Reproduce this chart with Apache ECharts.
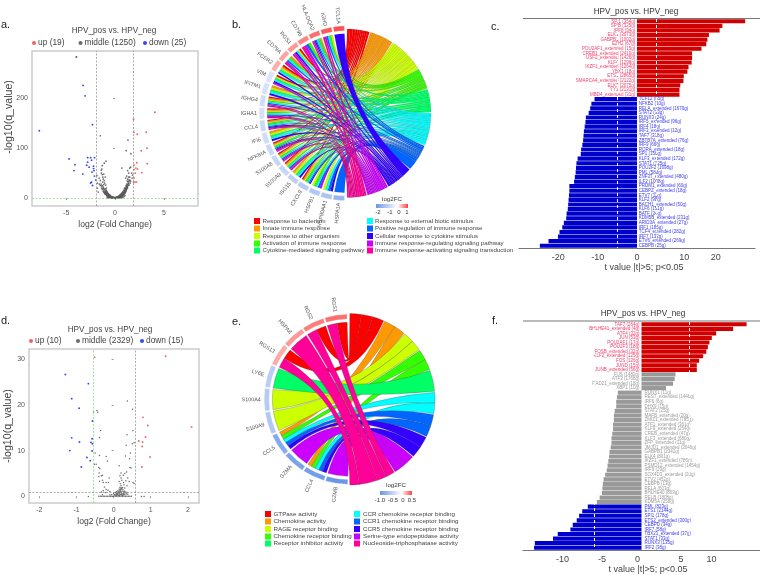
<!DOCTYPE html>
<html><head><meta charset="utf-8">
<style>html,body{margin:0;padding:0;background:#fff}#c{width:760px;height:575px}</style>
<script src="https://cdn.jsdelivr.net/npm/echarts@6/dist/echarts.min.js"></script>
</head><body><div id="c"></div>
<script>
// ---------- panel a ----------
const aUp=[[4.08,172],[1.9,158],[1.94,132],[2.28,128],[3.2,132],[3.27,100],[2.69,95],[3.3,69],[2.24,71],[1.94,66],[2.14,60],[2.3,58],[1.94,57],[2.75,51],[2.07,50],[1.94,40],[1.9,32],[2.04,32],[2.2,32]];
const aDown=[[-3.95,283],[-3.27,226],[-3.06,205],[-2.31,147],[-7.75,135],[-4.7,78.5],[-4.1,67],[-4.2,55],[-3.3,48],[-2.8,81],[-2.5,81],[-2.1,81],[-2.4,76],[-2.8,72],[-2.9,66],[-2.65,62],[-2.2,64],[-2.2,59],[-2.15,55],[-2.35,52],[-2.1,44],[-1.97,36],[-2.5,30],[-2.4,32],[-2.3,25]];
const aMid=[[-1.5,125],[1.33,116],[1.15,95],[1.63,89],[-0.92,74],[-1.1,70],[-1.3,65],[-1.35,58],[-1.4,56],[0.7,60],[1.5,60],[1.6,62],[1.3,55],[1.4,50],[1.7,50],[1.8,46],[1.75,40],[1.2,44],[1.1,40],[1.3,38],[1.25,34],[1.35,30],[1.2,28],[1.15,25],[1.1,22],[1,20],[0.95,18],[0.9,15],[0.8,13],[0.75,11],[0.7,10],[0.6,8],[0.55,7],[0.5,6],[0.4,4],[0.3,3],[0.2,2],[0.1,1],[0,0.5],
[-1.85,45],[-1.8,30],[-1.8,20],[-1.4,50],[-1.3,47],[-1.25,42],[-1.2,38],[-1.1,35],[-1.05,30],[-1.5,35],[-0.95,26],[-0.9,20],[-1.6,28],[-1.5,25],[-1.3,25],[-1.2,22],[-1.0,18],[-0.9,16],[-0.85,14],[-0.8,12],[-0.75,10],[-0.7,9],[-0.6,7],[-0.5,6],
[-1.15,16],[-1.05,14],[-0.98,12],[-0.95,10],[-0.88,9],[-0.82,8],[-0.77,7],[-0.7,6],[-0.65,5],[-0.6,4.5],[-0.55,4],[-0.5,3.5],[-0.45,3],[-0.4,2.5],[-0.35,2],[-0.3,1.5],[-0.25,1],[-0.2,0.8],[-0.15,0.6],[-0.85,5],[-0.78,4],[-0.72,3.5],[-0.66,3],[-0.6,2.5],[-0.54,2],[-0.48,1.5],[-0.42,1.2],[-0.36,1],[-0.8,1],[-0.7,0.8],[-0.6,0.6],[-0.5,0.5],[-0.4,0.5],[-0.3,0.4],[-0.2,0.4],[-0.1,0.4],[0,0.3],[0.1,0.4],[0.2,0.4],[0.3,0.5],[0.4,0.5],[0.5,0.6],[0.6,0.8],[0.7,1],[0.8,1.5],
[0.25,2],[0.35,2.8],[0.45,3.8],[0.5,4.5],[0.58,5],[0.65,6],[0.72,7],[0.78,8],[0.85,9.5],[0.9,11],[0.98,13],[1.02,15],[1.08,17],[1.15,19],[1.2,21],[1.22,24],[1.28,27],[1.32,33],[1.42,36],[1.5,42],[1.55,30],[1.6,34],[1.45,26],[0.85,6],[0.78,5],[0.7,4],[0.65,3.5],[0.6,3],[0.55,2.5],[0.5,2],[0.45,1.5],[0.4,1.2],[0.92,7],[1,9],[1.05,11],[1.12,13],[-1.05,9],[-1.12,11],[-1.2,13],[-1.3,17],[-1.38,20],[0.15,0.8],[0.05,0.7],[-0.05,0.7],[-0.1,1],[-1.72,12],[-1.62,40],[-1.0,42],[-1.15,48],
[-1.0,8],[-0.92,7],[-0.86,6.5],[-0.8,5.5],[-0.74,5],[-0.68,4],[-0.62,3.5],[-0.56,3],[-0.5,2.5],[-0.44,2],[-0.38,1.6],[-0.32,1.2],[-0.9,12],[-0.84,11],[-0.78,9],[-0.72,8],[-0.66,7],[-0.6,5.5],[-0.54,5],[-0.48,4],[-0.42,3.5],[-0.36,3],[-0.3,2.5],[-0.24,2],[-0.18,1.5],[-0.12,1.2],[-1.08,11],[-1.0,11],[-0.95,14],[-1.08,18],[-1.18,20],[-1.25,19],[-1.35,24],[-1.42,28],[-1.15,27],[-1.25,32],
[0.12,1.6],[0.18,1.2],[0.24,1.4],[0.3,2],[0.36,2.2],[0.42,3],[0.48,3],[0.54,3.5],[0.6,4.5],[0.66,5],[0.72,5.5],[0.78,6.5],[0.84,8],[0.9,9],[0.96,10.5],[1.02,12],[1.08,14],[1.14,16],[1.2,18],[1.26,21],[1.3,24],[1.36,26],[1.4,29],[1.12,19],[1.18,24],[1.06,18],[1.0,15],[0.94,12],[0.88,11],[0.82,10],[0.76,9],[0.7,7.5],[0.64,7],[0.58,6],[0.52,5],[0.46,4.5],[1.45,33],[1.52,36],[1.4,42],[1.28,20],[0.92,3],[1.02,5],[0.62,1.2],[0.72,2]];
// ---------- panel d ----------
const dUp=[[1.4,30.7],[2.1,15.2],[0.79,17.3],[0.92,15.5],[0.86,13],[0.68,12.1],[0.78,11.9],[0.77,10.9],[0.98,8.6],[0.76,6.4]];
const dDown=[[-1.3,26.7],[-0.68,24.7],[-1.13,21.4],[-0.93,19.3],[-0.57,16.5],[-1.13,12.8],[-0.92,11.9],[-0.58,12.6],[-0.61,11.8],[-0.57,11.5],[-1.18,10],[-0.58,9.9],[-0.72,8.5],[-0.63,7.8],[-0.87,6.4]];
const dMid=[[-0.51,30.5],[0.37,20.9],[0.51,19.1],[-0.54,18.5],[-0.45,18.8],[-0.43,18.4],[-0.35,14.4],[-0.38,12.9],[0.36,13.5],[0.52,14.4],[0.55,11.7],[0.34,11.2],[0.5,11.5],[-0.5,9.5],[-0.38,8.9],[-0.2,8.7],[-0.17,7.7],[0.32,8.8],[0.45,9.5],[0.43,8.2],[0.15,6.7],[0.47,6.2],[0.44,6.3],[-0.52,7],[-0.47,7],[-0.4,6.3],[-0.37,6],[-0.39,5.1],[-0.4,4.3],[-0.33,4.5],[-0.3,3.5],[-0.38,3.3],[-0.28,3],[-0.2,3],[-0.14,3],[-0.3,4.6],[-0.12,4],[0.17,4.5],[0.2,4],[0.26,4.6],[0.3,5],[0.35,5.3],[0.22,3.5],[0.27,3],[0.33,3.4],[0.38,4],[0.42,3.2],[0.52,3],[0.55,2.8],[0.2,5.1],[0.28,2.5],[0.18,2.7],[0.15,3.2],[0.36,2.3],[0.3,1.8],[-0.25,2],[-0.2,1.5],[-0.15,1.3],[-0.1,1],[-0.28,1.2],[-0.33,0.9],[-0.22,0.8],
[0,0.6],[0.05,0.8],[0.08,1],[0.1,0.7],[0.12,1.2],[0.15,1.5],[0.17,1.9],[0.2,2.3],[0.22,1.6],[0.25,1.4],[0.18,1.1],[0.2,0.9],[0.14,0.5],[0.22,0.6],[0.27,0.9],[0.3,0.7],[0.34,0.5],[0.1,0.3],[0.16,0.2],[0.24,0.2],
[-0.4,0],[-0.36,0],[-0.32,0],[-0.28,0],[-0.24,0],[-0.2,0],[-0.16,0],[-0.12,0],[-0.08,0],[-0.04,0],[0,0],[0.04,0],[0.08,0],[0.12,0],[0.16,0],[0.2,0],[0.24,0],[0.28,0],[0.32,0],[0.36,0],[0.4,0],[0.44,0],[0.48,0],[-0.68,-0.1],[0.75,-0.1],[0.82,-0.1],
[0.02,0.3],[0.06,0.4],[0.1,0.5],[0.13,0.8],[0.16,0.7],[0.19,1.4],[0.21,1.8],[0.23,1.1],[0.26,0.6],[0.29,1.1],[0.32,0.9],[0.18,0.4],[0.2,0.3],[0.22,0.3],[0.26,0.3],[0.3,0.3],[0.14,0.2],[0.08,0.2],[0.04,0.2],[0.17,1.3],[0.2,1.7],[0.24,1.9],[0.16,0.9],[0.12,0.9],[0.09,0.6],[-0.05,0.3],[-0.1,0.3],[-0.3,0.3],[0.38,0.4],[0.36,0.8]];
// ---------- panel c ----------
const cUpNames=['SPI1 (354g)','SPIB (325g)','IRF8 (34g)','ELK1 (3073g)','GABPB1 (1002g)','EZH2 (67g)','POU2AF1_extended (15g)','CREB1_extended (2410g)','USF2_extended (1426g)','KLF4 (1298g)','IKZF1_extended (1264g)','YBX1 (18g)','ETS1 (2865g)','SMARCA4_extended (2122g)','ELK3 (2075g)','YY1 (2131g)','MBD4_extended (31g)'];
const cUpValues=[27.5,21.7,21,18.3,17.9,17.6,16.4,14,14,13.9,13.1,12.8,11.9,11.8,11,10.8,10.8];
const cDownNames=['TCF12 (65g)','NFKB2 (10g)','RELA_extended (1670g)','STAT2 (33g)','RUNX3 (24g)','IRF5_extended (96g)','IRF4 (18g)','IRF3_extended (12g)','TAF7 (338g)','ZBTB7A_extended (76g)','IRF9 (66g)','RORA_extended (18g)','SP1 (156g)','KLF3_extended (172g)','STAT1 (125g)','POU2F2 (1698g)','PML (588g)','ZNF37_extended (480g)','ILF2 (1008g)','PRDM1_extended (60g)','CEBPZ_extended (18g)','ETV7 (11g)','KLF2 (98g)','BACH1_extended (50g)','KLF6 (151g)','BATF (34g)','KDM5B_extended (231g)','ARID3A_extended (27g)','IRF1 (185g)','TCF4_extended (282g)','IRF7 (132g)','ETV6_extended (269g)','CEBPB (25g)'];
const cDownValues=[-10.8,-11.6,-11.9,-12.3,-13,-13.1,-13.3,-13.5,-13.6,-13.7,-13.9,-14.2,-14.3,-15.1,-15.4,-15.5,-15.6,-15.8,-16,-17.2,-17.2,-17.3,-17.4,-17.5,-17.6,-17.9,-18,-18.6,-19,-19.7,-20.1,-22.5,-24.7];
// ---------- panel f ----------
const fUpNames=['TAF7 (264g)','BHLHE41_extended (4g)','ATF4 (32g)','JUN (53g)','POU2AF1 (17g)','POU2F3 (18g)','FOSB_extended (32g)','KLF2_extended (125g)','FOS (126g)','JUND (15g)','JUNB_extended (56g)'];
const fUpValues=[13.3,11.6,9.45,8.9,8.6,8.4,8.2,7.8,7.3,7,7];
const fMidPosNames=['FUS (1482g)','ATF3 (1768g)','RAD21_extended (18g)','XBP1 (10g)'];
const fMidPosValues=[4.3,4.2,4,3.1];
const fMidNegNames=['RUNX1 (11g)','REST_extended (1446g)','IRF6 (6g)','DHX9 (15g)','STAT2 (25g)','MAFB_extended (20g)','ZMIZ1_extended (785g)','ATF1_extended (361g)','KLF9_extended (254g)','CREB_extended (47g)','KLF3_extended (680g)','ZFP_extended (11g)','JMJD1_extended (2040g)','GABPB1 (2341g)','ELK4 (801g)','IKZF1_extended (785g)','PSMD12_extended (1454g)','IRF9 (29g)','SOX4D3_extended (20g)','ETV2 (452g)','CEBPB (13g)','RELA (603g)','BHLHE40 (803g)','RELB (1808g)','KDM5A (258g)'];
const fMidNegValues=[-3,-3.1,-3.2,-3.2,-3.4,-3.5,-3.5,-3.6,-3.6,-3.7,-3.8,-3.8,-3.9,-4.05,-4.1,-4.2,-4.3,-4.4,-4.6,-4.8,-4.9,-4.95,-5,-5.3,-5.65];
const fDownNames=['PML (823g)','ETS1 (2144g)','SPI1 (178g)','ETS2_extended (300g)','CEBPD (34g)','IRF7 (58g)','TBX21_extended (37g)','STAT1 (33g)','RUNX3 (135g)','IRF2 (38g)'];
const fDownValues=[-6.8,-7.5,-7.9,-8.2,-8.7,-9,-10.6,-11.2,-13.5,-13.6];
// ---------- chord b ----------
const bTerms=['Response to bacterium','Innate immune response','Response to other organism','Activation of immune response','Cytokine-mediated signaling pathway','Response to external biotic stimulus','Positive regulation of immune response','Cellular response to cytokine stimulus','Immune response-regulating signaling pathway','Immune response-activating signaling transduction'];
const bTermSpans=[16,17,25,15,16.5,23,19,19,15.5,14];
const bGenes=['TCL1A','IGHD','HLA-DQA2','CD79B','RGS1','CD79A','FCER2','VIM','IFITM1','IGHG4','IGHA1','CCL4','IFI6','NFKBIA','S100A8','S100A9','ISG15','CXCL9','HSPB1','HSP90AA1','HSPA1A'];
const bGeneFc=[0.85,0.8,0.7,0.6,0.5,0.45,0.4,-0.4,-0.45,-0.5,-0.45,-0.55,-0.5,-0.55,-0.6,-0.6,-0.7,-0.75,-0.8,-0.85,-1.1];
const bGeneTerms=[[7],[2,3,5,6,8,9],[1,3,4,5,6,7,8,9],[3,6,8,9],[0,2,5,7,8,9],[1,3,5,6,8,9],[0,1,2,4,5,7],[0,2,4,5,7,8],[1,2,4,5,7],[0,1,2,3,5,6,8,9],[0,1,2,3,5,6,8,9],[0,1,2,3,4,5,6,7,8,9],[1,2,4,5,7],[0,1,2,3,4,6,7,8,9],[0,1,2,3,5,6,8,9],[0,1,2,3,5,6,8,9],[1,2,4,5,7],[0,1,2,3,4,5,6,7],[2,3,5,6,8],[2,5,6,7],[6]];
// ---------- chord e ----------
const eTerms=['GTPase activity','Chemokine activity','RAGE receptor binding','Chemokine receptor binding','Receptor inhibitor activity','CCR chemokine receptor binding','CCR1 chemokine receptor binding','CCR5 chemokine receptor binding','Serine-type endopeptidase activity','Nucleoside-triphosphatase activity'];
const eTermSpans=[24,16,15,15,15,15,16,16,16,32];
const eGenes=['RGS1','RGS2','HSPA8','RGS13','LY6E','S100A4','S100A9','CCL5','GZMA','CCL4','GZMB'];
const eGeneFc=[0.42,0.38,0.3,0.25,-0.4,-0.42,-0.45,-0.7,-0.75,-0.8,-0.85];
const eGeneTerms=[[0,9],[0,9],[9],[0,9],[4],[2],[2],[1,3,5,6,7],[8],[1,3,5,6,7],[8]];
const ramp=['#FF0000','#FF9900','#CCFF00','#33FF00','#00FF66','#00FFFF','#0066FF','#3300FF','#CC00FF','#FF0099'];

const FONT='"Liberation Sans",Arial,sans-serif';
const graphics=[];
function txt(x,y,s,size,fill,align,vAlign,rot){graphics.push({type:'text',x,y,rotation:rot||0,silent:true,style:{text:s,font:size+'px '+FONT,fill:fill||'#333',align:align||'left',verticalAlign:vAlign||'middle'}});}
function rect(x,y,w,h,fill){graphics.push({type:'rect',silent:true,shape:{x,y,width:w,height:h},style:{fill}});}
function hline(x1,x2,y,c,w){graphics.push({type:'line',silent:true,shape:{x1,y1:y,x2,y2:y},style:{stroke:c,lineWidth:w}});}

[['a.',1,25],['b.',232,25],['c.',491,27],['d.',1,321],['e.',232,322],['f.',492,321]].forEach(p=>txt(p[1],p[2],p[0],11,'#222'));
txt(114,31,'HPV_pos vs. HPV_neg',8.2,'#444','center');
txt(110,330,'HPV_pos vs. HPV_neg',8.2,'#444','center');
txt(636,12,'HPV_pos vs. HPV_neg',8.2,'#333','center');
txt(643,314,'HPV_pos vs. HPV_neg',8.2,'#333','center');
txt(9,117,'-log10(q_value)',10.6,'#444','center','middle',Math.PI/2);
txt(8,426,'-log10(q_value)',10.6,'#444','center','middle',Math.PI/2);
txt(644,268,'t value |t|>5; p<0.05',9,'#444','center');
txt(648,570,'t value |t|>5; p<0.05',9,'#444','center');
hline(523,760,18.5,'#777',1.2);
hline(523,760,321,'#777',1.2);

function hexMix(a,b,t){const p=s=>[1,3,5].map(i=>parseInt(s.substr(i,2),16));const A=p(a),B=p(b);return 'rgb('+A.map((v,i)=>Math.round(v+(B[i]-v)*t)).join(',')+')';}
function fcColor(v,lo,hi,cLo,cHi){return v<0?hexMix('#ffffff',cLo,Math.min(1,v/lo)):hexMix('#ffffff',cHi,Math.min(1,v/hi));}

function chord(o){
  const P=(deg,r)=>{const t=deg*Math.PI/180;return [o.cx+r*Math.sin(t),o.cy-r*Math.cos(t)];};
  const n=o.genes.length, gStep=(o.gEnd-o.gStart)/n;
  const perTerm=o.spans.map(()=>[]);
  o.geneTerms.forEach((ts,g)=>ts.forEach(t=>perTerm[t].push({g,w:1/ts.length})));
  const tAng={};let acc=o.tStart;
  o.spans.forEach((s,t)=>{
    const tot=perTerm[t].reduce((a,b)=>a+b.w,0);let a=acc+o.gap/2;const us=s-o.gap;
    perTerm[t].forEach(it=>{const d=us*it.w/tot;tAng[it.g+'_'+t]=[a,a+d];a+=d;});
    acc+=s;
  });
  const ribbons=[];
  o.geneTerms.forEach((ts,g)=>{
    const hiA=o.gEnd-g*gStep-o.gGap/2, loA=o.gEnd-(g+1)*gStep+o.gGap/2;
    const sorted=ts.slice().sort((a,b)=>b-a), d=(hiA-loA)/sorted.length;
    sorted.forEach((t,i)=>ribbons.push({g,t,a1:loA+i*d,a2:loA+(i+1)*d,t1:tAng[g+'_'+t][0],t2:tAng[g+'_'+t][1]}));
  });
  o.order(ribbons);
  const f=p=>p[0].toFixed(2)+' '+p[1].toFixed(2);
  const ribbonSeries={type:'custom',coordinateSystem:'none',silent:true,clip:false,z:2,data:ribbons.map((_,i)=>[i]),
    renderItem(params){const q=ribbons[params.dataIndex];const c=o.cx+' '+o.cy;
      const d='M'+f(P(q.a1,o.rg))+'A'+o.rg+' '+o.rg+' 0 0 1 '+f(P(q.a2,o.rg))+'Q'+c+' '+f(P(q.t1,o.rt))+'A'+o.rt+' '+o.rt+' 0 0 1 '+f(P(q.t2,o.rt))+'Q'+c+' '+f(P(q.a1,o.rg))+'Z';
      return {type:'path',shape:{pathData:d},style:{fill:ramp[q.t],stroke:o.stroke,lineWidth:o.lw}};}};
  const geneSeries={type:'custom',coordinateSystem:'none',silent:true,clip:false,z:3,data:o.genes.map((_,i)=>[i]),
    renderItem(params){const g=params.dataIndex;const hi=o.gEnd-g*gStep-o.gGap/2,lo=o.gEnd-(g+1)*gStep+o.gGap/2;const mid=(hi+lo)/2;
      const [lx,ly]=P(mid,o.labelR);
      return {type:'group',children:[
        {type:'sector',shape:{cx:o.cx,cy:o.cy,r0:o.r0,r:o.r1,startAngle:(lo-90)*Math.PI/180,endAngle:(hi-90)*Math.PI/180,clockwise:true},style:{fill:fcColor(o.fc[g],o.fcLo,o.fcHi,o.cLo,o.cHi),stroke:'#ddd',lineWidth:0.3}},
        {type:'text',x:lx,y:ly,rotation:(270-mid)*Math.PI/180,style:{text:o.genes[g],font:o.labelSize+'px '+FONT,fill:'#555',align:'right',verticalAlign:'middle'}}
      ]};}};
  return [ribbonSeries,geneSeries];
}
const chordB=chord({cx:346.7,cy:113.3,rt:84.3,rg:79.5,r0:82.6,r1:87.3,tStart:0,spans:bTermSpans,gStart:181,gEnd:359,gap:0.7,gGap:1.2,genes:bGenes,fc:bGeneFc,fcLo:-2,fcHi:1,cLo:'#3C78E6',cHi:'#FF3030',geneTerms:bGeneTerms,stroke:'rgba(40,40,40,0.45)',lw:0.25,labelR:89.8,labelSize:5.4,order:r=>r.sort((a,b)=>b.g-a.g)});
const chordE=chord({cx:349.3,cy:399.3,rt:85.7,rg:77,r0:80.3,r1:85,tStart:0,spans:eTermSpans,gStart:180.5,gEnd:359,gap:0.7,gGap:1.2,genes:eGenes,fc:eGeneFc,fcLo:-1.1,fcHi:0.6,cLo:'#3C78E6',cHi:'#FF3030',geneTerms:eGeneTerms,stroke:'rgba(70,70,70,0.7)',lw:0.4,labelR:88.5,labelSize:5.4,order:r=>r.sort((a,b)=>a.t-b.t)});

function legendBlock(terms,x1,x2,tx1,tx2,ys,sz,size){terms.forEach((t,i)=>{const col=i<5;const y=ys[i%5];rect(col?x1:x2,y-sz/2,sz,sz,ramp[i]);txt(col?tx1:tx2,y,t,size,'#444');});}
legendBlock(bTerms,254,367,262.5,375,[221,228.5,236,243.5,250.5],6,6.15);
legendBlock(eTerms,265,354,273.5,363,[514,521.5,529,536.5,543.5],6,6.25);
function cbar(x,y,w,h,title,stops,labels,ly,ty){
  graphics.push({type:'rect',silent:true,shape:{x,y,width:w,height:h},style:{fill:{type:'linear',x:0,y:0,x2:1,y2:0,colorStops:stops}}});
  txt(x+w/2,ty,title,6.2,'#333','center');
  labels.forEach(l=>txt(l[1],ly,l[0],6,'#333','center'));
}
const grad=[{offset:0,color:'#6C94E8'},{offset:0.67,color:'#ffffff'},{offset:1,color:'#FF4040'}];
cbar(376,204,32,4,'log2FC',grad,[['-2',378],['-1',390],['0',399],['1',407]],212.5,199.5);
cbar(380,491,32,4,'log2FC',grad,[['-1.0',380],['-0.5',393],['0',403],['0.5',412]],500,485.5);

function barSeries(gi,names,groups,ref){
  let pos=0;return groups.map(gp=>{
    const data=names.map(()=>null);gp.v.forEach((v,i)=>{data[pos+i]=v;});pos+=gp.v.length;
    const s={type:'bar',xAxisIndex:gi,yAxisIndex:gi,stack:'s'+gi,barCategoryGap:'9%',data,itemStyle:{color:gp.c},silent:true,
      label:{show:true,position:gp.p,distance:gp.d,formatter:q=>q.name,fontSize:4.5,fontFamily:FONT,color:gp.t}};
    s.markLine={silent:true,symbol:'none',label:{show:false},lineStyle:{color:'#fff',type:[3,3],width:0.8},data:[{xAxis:ref},{xAxis:-ref}]};
    return s;});
}
const RED='#D00000',BLUE='#0000CC',GREY='#999999',RT='#F0406E',BT='#3A3AEE',GT='#9a9a9a';
const cNames=cUpNames.concat(cDownNames);
const fNames=fUpNames.concat(fMidPosNames,fMidNegNames,fDownNames);
const cBars=barSeries(1,cNames,[{v:cUpValues,c:RED,p:'left',d:1.7,t:RT},{v:cDownValues,c:BLUE,p:'right',d:1.7,t:BT}],5);
const fBars=barSeries(3,fNames,[{v:fUpValues,c:RED,p:'left',d:2,t:RT},{v:fMidPosValues,c:GREY,p:'left',d:2,t:GT},{v:fMidNegValues,c:GREY,p:'right',d:3,t:GT},{v:fDownValues,c:BLUE,p:'right',d:3,t:BT}],6);

function volAxes(gi,xr,yr,xt,yt,xn){return {x:{type:'value',gridIndex:gi,min:xr[0],max:xr[1],splitLine:{show:false},axisLine:{show:false},axisTick:{show:true,length:2,lineStyle:{color:'#999'},customValues:xt},
    axisLabel:{customValues:xt,fontSize:7,color:'#555',fontFamily:FONT,margin:4},name:xn,nameLocation:'middle',nameGap:14,nameTextStyle:{fontSize:8.6,color:'#444',fontFamily:FONT}},
  y:{type:'value',gridIndex:gi,min:yr[0],max:yr[1],splitLine:{show:false},axisLine:{show:false},axisTick:{show:true,length:2,lineStyle:{color:'#999'},customValues:yt},
    axisLabel:{customValues:yt,fontSize:7,color:'#555',fontFamily:FONT,margin:4}}};}
const va=volAxes(0,[-8.5,8.5],[-16,295],[-5,0,5],[0,100,200],'log2 (Fold Change)');
const vd=volAxes(2,[-2.28,2.3],[-1.5,32.3],[-2,-1,0,1,2],[0,10,20,30],'log2 (Fold Change)');
function barAxes(gi,min,max,xt,shift,cats){return {x:{type:'value',gridIndex:gi,min,max,splitLine:{show:false},axisLine:{show:true,onZero:false,lineStyle:{color:'#777',width:1.2}},axisTick:{show:false},
   axisLabel:{customValues:xt,fontSize:9,color:'#444',fontFamily:FONT,margin:5,formatter:v=>shift[v]?('{s'+v+'|'+v+'}'):(''+v),rich:Object.fromEntries(Object.keys(shift).map(k=>['s'+k,{fontSize:9,color:'#444',fontFamily:FONT,padding:shift[k]>0?[0,0,0,shift[k]]:[0,-shift[k],0,0]}]))}},
  y:{type:'category',gridIndex:gi,data:cats,inverse:true,show:false}};}
const bc=barAxes(1,-30,30,[-20,-10,0,10,20],{10:16},cNames);
const bf=barAxes(3,-15,15,[-10,-5,0,5,10],{0:-8,10:-18},fNames);

function vol(gi,name,data,color,size){return {type:'scatter',name,xAxisIndex:gi,yAxisIndex:gi,data,symbolSize:size,silent:true,itemStyle:{color,opacity:0.9}};}
const UPC='#F05050',DNC='#2233EE',MIDC='#5a5a5a';
const lines=(arr)=>({silent:true,symbol:'none',label:{show:false},data:arr.map(a=>{const o={lineStyle:{color:a[2],type:[2,1.5],width:0.7}};o[a[0]]=a[1];return o;})});
const aMidS=vol(0,'middle (1250)',aMid,MIDC,1.7);aMidS.markLine=lines([['xAxis',-1.9,'#888'],['xAxis',1.9,'#888'],['yAxis',0,'#7ed67e']]);
const dMidS=vol(2,'middle (2329)',dMid,MIDC,1.5);dMidS.markLine=lines([['xAxis',-0.56,'#7ed67e'],['xAxis',0.59,'#888'],['yAxis',0.95,'#888']]);
const legendOne=(name,left,top)=>({data:[{name,icon:'circle'}],left,top,itemWidth:4,itemHeight:4,selectedMode:false,padding:0,textStyle:{fontSize:8.4,color:'#444',fontFamily:FONT,padding:[0,0,0,-3]}});

const option={animation:false,backgroundColor:'#fff',
 legend:[legendOne('up (19)',32,39),legendOne('middle (1250)',78.5,39),legendOne('down (25)',143,39),legendOne('up (10)',29,337),legendOne('middle (2329)',76,337),legendOne('down (15)',140,337)],
 grid:[{left:32,top:51,width:166,height:155,show:true,borderColor:'#ccc',borderWidth:1.5},
       {left:519,top:19,width:236,height:229},
       {left:29,top:349,width:170,height:154,show:true,borderColor:'#ccc',borderWidth:1.5},
       {left:523,top:322,width:237,height:228}],
 xAxis:[va.x,bc.x,vd.x,bf.x],yAxis:[va.y,bc.y,vd.y,bf.y],
 graphic:{elements:graphics},
 series:[vol(0,'up (19)',aUp,UPC,1.9),aMidS,vol(0,'down (25)',aDown,DNC,1.9),
         vol(2,'up (10)',dUp,UPC,1.9),dMidS,vol(2,'down (15)',dDown,DNC,1.9),
         ...cBars,...fBars,...chordB,...chordE]};
echarts.init(document.getElementById('c'),null,{renderer:'canvas'}).setOption(option);
</script></body></html>
